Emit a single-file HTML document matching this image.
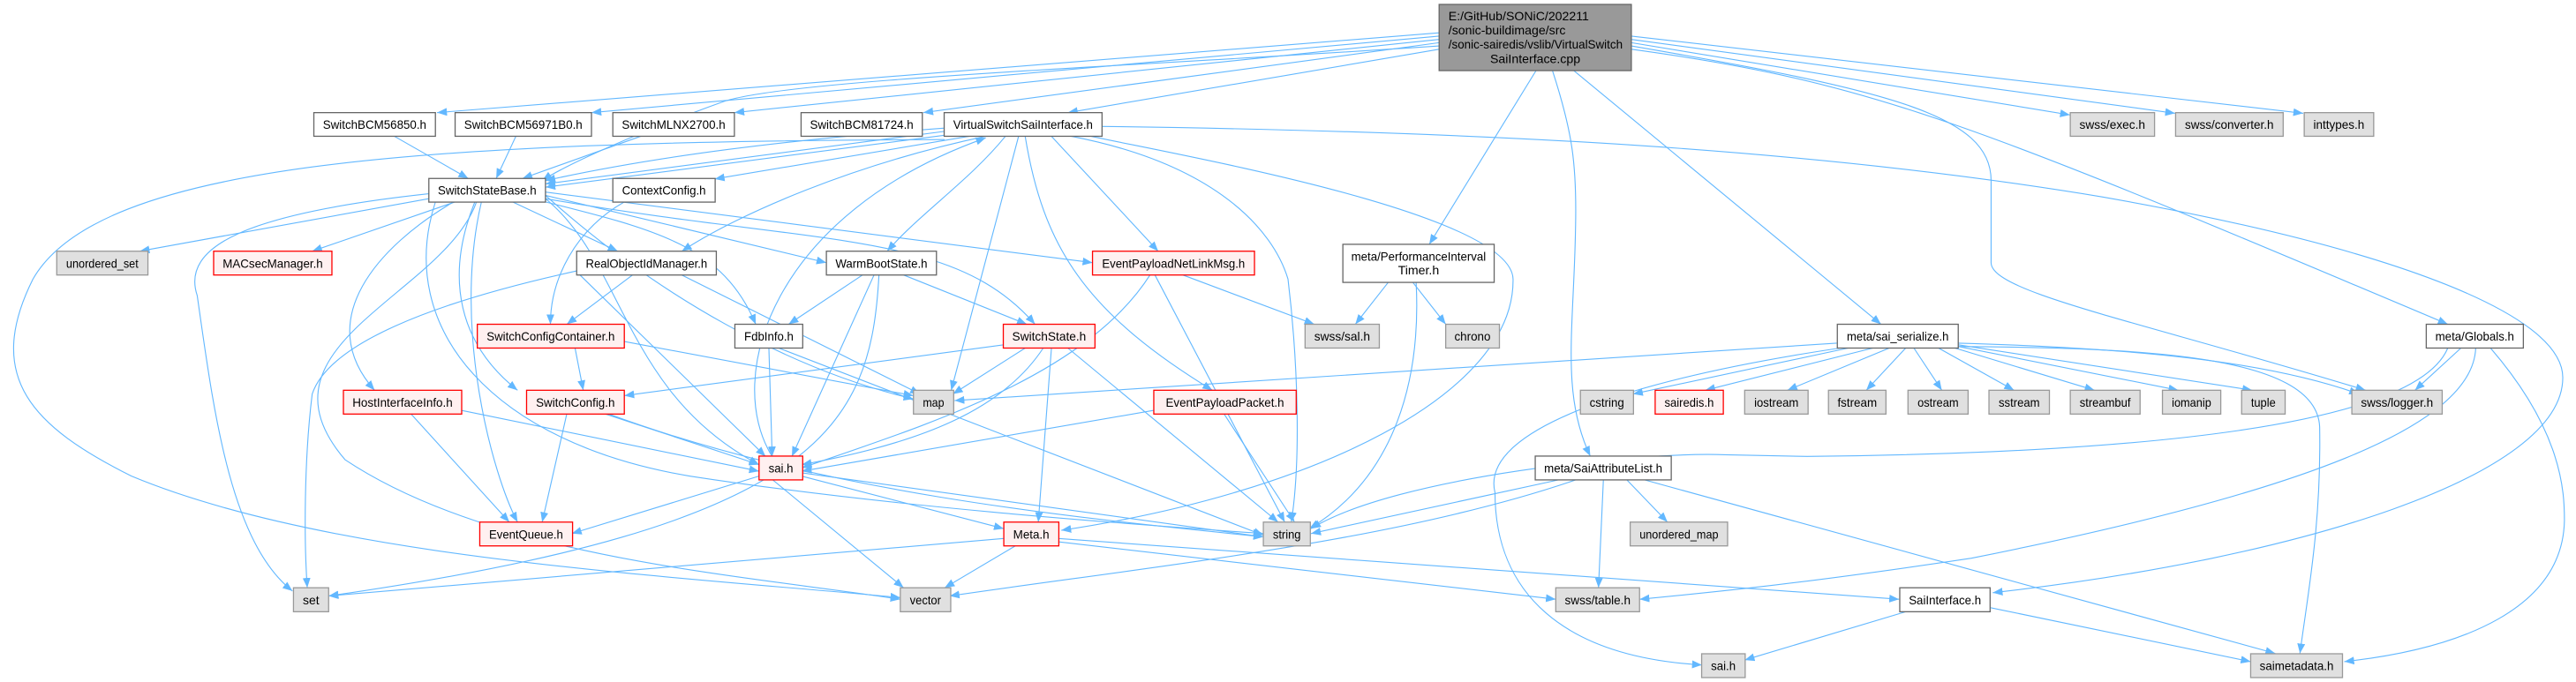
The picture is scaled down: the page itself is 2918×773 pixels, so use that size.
<!DOCTYPE html>
<html><head><meta charset="utf-8"><style>
html,body{margin:0;padding:0;background:#fff;}
svg{display:block;}
text{font-family:"Liberation Sans",Arial,sans-serif;font-size:7.6px;fill:#000;}
.e{fill:none;stroke:#63b8ff;stroke-width:0.6;marker-end:url(#a);}
.w{fill:#fff;stroke:#666;stroke-width:0.7;}
.g{fill:#e0e0e0;stroke:#999;stroke-width:0.7;}
.r{fill:#fff0f0;stroke:#ff0000;stroke-width:0.7;}
.root{fill:#999;stroke:#666;stroke-width:0.7;}
</style></head><body>
<svg width="2918" height="773" viewBox="0 0 1568 415.4" xmlns="http://www.w3.org/2000/svg">
<defs><marker id="a" markerUnits="userSpaceOnUse" markerWidth="7" markerHeight="6" refX="6" refY="2.4" orient="auto"><path d="M0,0 L6,2.4 L0,4.8 z" fill="#63b8ff"/></marker></defs>
<g>
<path class="e" d="M876,20 L266,68.6"/>
<path class="e" d="M876,22 L360,68.6"/>
<path class="e" d="M876,24 L447,68.6"/>
<path class="e" d="M876,26 L562,68.6"/>
<path class="e" d="M876,30 L650,68.6"/>
<path class="e" d="M876,28 C700,40 480,48 440,62 C390,80 345,100 330,110"/>
<path class="e" d="M993,26 L1260,70"/>
<path class="e" d="M993,24 L1324,69"/>
<path class="e" d="M993,22 L1402,69"/>
<path class="e" d="M993,30 C1140,50 1200,75 1490,197.5"/>
<path class="e" d="M993,28 C1150,55 1212,70 1212,110 L1212,160 C1212,178 1300,195 1440,237.7"/>
<path class="e" d="M935,43 L870,148.8"/>
<path class="e" d="M945,43 C957,80 960,100 959,140 C958,200 950,240 968,277.8"/>
<path class="e" d="M958,43 L1145,197.5"/>
<path class="e" d="M575,80 L332,112"/>
<path class="e" d="M578,82 L332,114"/>
<path class="e" d="M575,78 C480,85 400,95 332,110"/>
<path class="e" d="M590,83 L435,109"/>
<path class="e" d="M600,83 C520,100 450,130 415,153"/>
<path class="e" d="M612,83 C590,110 560,130 540,153"/>
<path class="e" d="M620,83 L579,237.7"/>
<path class="e" d="M624,83 C635,150 660,190 738,237.7"/>
<path class="e" d="M640,83 L705,153"/>
<path class="e" d="M652,83 C740,100 775,140 784,170 C790,220 792,280 786,318"/>
<path class="e" d="M664,83 C720,95 920,130 921,170 C922,240 800,300 646,323"/>
<path class="e" d="M671,77 C900,80 1100,90 1280,120 C1450,150 1560,190 1560,230 C1560,290 1400,340 1213,361"/>
<path class="e" d="M575,85 C250,86 60,100 20,170 C-10,230 20,260 80,290 C200,340 400,350 548,364"/>
<path class="e" d="M470,278 C440,230 470,130 600,84"/>
<path class="e" d="M240,83 L285,108.7"/>
<path class="e" d="M314,83 L302,108.7"/>
<path class="e" d="M390,83 L318,108.7"/>
<path class="e" d="M261,121 L85,153"/>
<path class="e" d="M277,123 L190,153"/>
<path class="e" d="M312,123 L376,153"/>
<path class="e" d="M332,119 L503,160"/>
<path class="e" d="M332,117 L665,160"/>
<path class="e" d="M332,121 C500,150 580,140 630,197.5"/>
<path class="e" d="M332,123 C400,140 440,150 460,197.5"/>
<path class="e" d="M276,123 C230,150 190,195 228,237.7"/>
<path class="e" d="M289,123 C270,170 280,210 315,237.7"/>
<path class="e" d="M332,121 C380,160 380,240 462,283"/>
<path class="e" d="M293,123 C275,200 300,290 315,318"/>
<path class="e" d="M261,118 C150,130 110,150 120,180 C130,250 140,330 178,360"/>
<path class="e" d="M332,119 C400,180 480,225 556,243"/>
<path class="e" d="M290,123 C270,180 150,210 210,280 C300,340 450,350 548,365"/>
<path class="e" d="M265,123 C240,200 300,270 420,290 C550,310 700,320 769,325"/>
<path class="e" d="M380,123 C350,140 335,170 335,197.5"/>
<path class="e" d="M385,167.5 L345,197.5"/>
<path class="e" d="M351,165 C260,185 200,210 190,240 C185,280 185,330 187,358"/>
<path class="e" d="M353,167.5 L466,278"/>
<path class="e" d="M415,167.5 L560,240"/>
<path class="e" d="M525,167.5 L480,197.5"/>
<path class="e" d="M550,167.5 L625,197.5"/>
<path class="e" d="M532,167.5 L482,278"/>
<path class="e" d="M535,167.5 C530,260 500,320 200,363"/>
<path class="e" d="M700,167.5 C660,230 560,260 488,285"/>
<path class="e" d="M703,167.5 L782,318"/>
<path class="e" d="M720,167.5 L800,197.5"/>
<path class="e" d="M845,172 L825,197.5"/>
<path class="e" d="M860,172 L880,197.5"/>
<path class="e" d="M862,172 C865,230 850,290 797,322"/>
<path class="e" d="M350,212 L355,237.7"/>
<path class="e" d="M380,208 L556,241"/>
<path class="e" d="M468,212 L470,278"/>
<path class="e" d="M474,212 L769,326"/>
<path class="e" d="M611,210 L380,241"/>
<path class="e" d="M624,212 L580,240"/>
<path class="e" d="M635,212 C610,250 560,270 488,283"/>
<path class="e" d="M640,212 L632,318"/>
<path class="e" d="M650,212 L778,318"/>
<path class="e" d="M250,252 L310,318"/>
<path class="e" d="M281,250 L462,287"/>
<path class="e" d="M345,252 L330,318"/>
<path class="e" d="M368,252 L462,283"/>
<path class="e" d="M370,252 C500,300 650,315 769,327"/>
<path class="e" d="M702,250 L488,287"/>
<path class="e" d="M745,252 L788,318"/>
<path class="e" d="M462,290 L348,325"/>
<path class="e" d="M488,290 L611,322"/>
<path class="e" d="M470,292 L550,358"/>
<path class="e" d="M488,288 L769,327"/>
<path class="e" d="M611,328 L200,363"/>
<path class="e" d="M618,332.5 L575,358"/>
<path class="e" d="M644,330 L947,365"/>
<path class="e" d="M644,328 L1156,365"/>
<path class="e" d="M1118,209 L581,244"/>
<path class="e" d="M1125,212 L994,240"/>
<path class="e" d="M1140,212 L1038,237.7"/>
<path class="e" d="M1150,212 L1088,237.7"/>
<path class="e" d="M1160,212 L1136,237.7"/>
<path class="e" d="M1165,212 L1182,237.7"/>
<path class="e" d="M1180,212 L1226,237.7"/>
<path class="e" d="M1190,212 L1275,237.7"/>
<path class="e" d="M1192,211 L1326,237.7"/>
<path class="e" d="M1192,210 L1371,237.7"/>
<path class="e" d="M1192,209 C1300,212 1380,220 1436,240"/>
<path class="e" d="M1120,212 C1000,230 900,260 910,300 C910,360 950,400 1036,405"/>
<path class="e" d="M1192,211 C1300,212 1410,215 1412,260 C1413,320 1405,360 1400,398"/>
<path class="e" d="M1490,212 C1470,260 1300,276 1100,278 L1050,277 C1000,275 850,290 798,322"/>
<path class="e" d="M950,292 L798,325"/>
<path class="e" d="M960,292 C850,330 700,345 578,363"/>
<path class="e" d="M976,292 L973,358"/>
<path class="e" d="M990,292 L1015,318"/>
<path class="e" d="M1000,292 L1385,398"/>
<path class="e" d="M1498,212 L1470,237.7"/>
<path class="e" d="M1507,212 C1505,260 1400,300 1200,340 C1100,355 1050,360 998,365"/>
<path class="e" d="M1516,212 C1560,263 1561,300 1561,317 C1560,370 1500,395 1427,403"/>
<path class="e" d="M1160,372.6 L1062,402"/>
<path class="e" d="M1211,370 L1370,403"/>
</g>
<g>
<rect class="root" x="876" y="2.7" width="117" height="40.3"/>
<text x="881.7" y="12.5">E:/GitHub/SONiC/202211</text>
<text x="881.7" y="21.1">/sonic-buildimage/src</text>
<text x="881.7" y="29.6" textLength="106" lengthAdjust="spacingAndGlyphs">/sonic-sairedis/vslib/VirtualSwitch</text>
<text x="934.5" y="38.5" text-anchor="middle">SaiInterface.cpp</text>
<rect class="w" x="817.4" y="148.8" width="92.1" height="23.2"/>
<text x="863.5" y="158.9" text-anchor="middle" textLength="82" lengthAdjust="spacingAndGlyphs">meta/PerformanceInterval</text>
<text x="863.5" y="167.1" text-anchor="middle">Timer.h</text>
</g>
<rect class="w" x="191" y="68.6" width="74" height="14.4"/><text x="228" y="78.5" text-anchor="middle" textLength="63" lengthAdjust="spacingAndGlyphs">SwitchBCM56850.h</text>
<rect class="w" x="277" y="68.6" width="83" height="14.4"/><text x="318.5" y="78.5" text-anchor="middle" textLength="72" lengthAdjust="spacingAndGlyphs">SwitchBCM56971B0.h</text>
<rect class="w" x="373" y="68.6" width="74" height="14.4"/><text x="410" y="78.5" text-anchor="middle" textLength="63" lengthAdjust="spacingAndGlyphs">SwitchMLNX2700.h</text>
<rect class="w" x="487.6" y="68.6" width="73.8" height="14.4"/><text x="524.5" y="78.5" text-anchor="middle" textLength="63" lengthAdjust="spacingAndGlyphs">SwitchBCM81724.h</text>
<rect class="w" x="574.7" y="68.6" width="96.1" height="14.4"/><text x="622.7" y="78.5" text-anchor="middle" textLength="85" lengthAdjust="spacingAndGlyphs">VirtualSwitchSaiInterface.h</text>
<rect class="g" x="1260.2" y="68.6" width="51.3" height="14.4"/><text x="1285.8" y="78.5" text-anchor="middle" textLength="40" lengthAdjust="spacingAndGlyphs">swss/exec.h</text>
<rect class="g" x="1324.3" y="68.6" width="65.5" height="14.4"/><text x="1357" y="78.5" text-anchor="middle" textLength="54" lengthAdjust="spacingAndGlyphs">swss/converter.h</text>
<rect class="g" x="1402.6" y="68.6" width="42.3" height="14.4"/><text x="1423.7" y="78.5" text-anchor="middle" textLength="31" lengthAdjust="spacingAndGlyphs">inttypes.h</text>
<rect class="w" x="261" y="108.7" width="71" height="14.4"/><text x="296.5" y="118.6" text-anchor="middle" textLength="60" lengthAdjust="spacingAndGlyphs">SwitchStateBase.h</text>
<rect class="w" x="373" y="108.7" width="62.3" height="14.4"/><text x="404.1" y="118.6" text-anchor="middle" textLength="51" lengthAdjust="spacingAndGlyphs">ContextConfig.h</text>
<rect class="g" x="34.5" y="153" width="55.5" height="14.5"/><text x="62.2" y="163" text-anchor="middle" textLength="44" lengthAdjust="spacingAndGlyphs">unordered_set</text>
<rect class="r" x="130" y="153" width="72" height="14.5"/><text x="166" y="163" text-anchor="middle" textLength="61" lengthAdjust="spacingAndGlyphs">MACsecManager.h</text>
<rect class="w" x="351" y="153" width="85" height="14.5"/><text x="393.5" y="163" text-anchor="middle" textLength="74" lengthAdjust="spacingAndGlyphs">RealObjectIdManager.h</text>
<rect class="w" x="503" y="153" width="67" height="14.5"/><text x="536.5" y="163" text-anchor="middle" textLength="56" lengthAdjust="spacingAndGlyphs">WarmBootState.h</text>
<rect class="r" x="665" y="153" width="98.6" height="14.5"/><text x="714.3" y="163" text-anchor="middle" textLength="87" lengthAdjust="spacingAndGlyphs">EventPayloadNetLinkMsg.h</text>
<rect class="r" x="290.5" y="197.5" width="89.5" height="14.5"/><text x="335.2" y="207.5" text-anchor="middle" textLength="78" lengthAdjust="spacingAndGlyphs">SwitchConfigContainer.h</text>
<rect class="w" x="447.3" y="197.5" width="41.3" height="14.5"/><text x="468" y="207.5" text-anchor="middle" textLength="30" lengthAdjust="spacingAndGlyphs">FdbInfo.h</text>
<rect class="r" x="610.7" y="197.5" width="55.8" height="14.5"/><text x="638.6" y="207.5" text-anchor="middle" textLength="45" lengthAdjust="spacingAndGlyphs">SwitchState.h</text>
<rect class="g" x="794.4" y="197.5" width="45.2" height="14.5"/><text x="817" y="207.5" text-anchor="middle" textLength="34" lengthAdjust="spacingAndGlyphs">swss/sal.h</text>
<rect class="g" x="880" y="197.5" width="32.7" height="14.5"/><text x="896.3" y="207.5" text-anchor="middle" textLength="22" lengthAdjust="spacingAndGlyphs">chrono</text>
<rect class="w" x="1118.4" y="197.5" width="73.6" height="14.5"/><text x="1155.2" y="207.5" text-anchor="middle" textLength="62" lengthAdjust="spacingAndGlyphs">meta/sai_serialize.h</text>
<rect class="w" x="1476.9" y="197.5" width="59.1" height="14.5"/><text x="1506.4" y="207.5" text-anchor="middle" textLength="48" lengthAdjust="spacingAndGlyphs">meta/Globals.h</text>
<rect class="r" x="209" y="237.7" width="72" height="14.5"/><text x="245" y="247.7" text-anchor="middle" textLength="61" lengthAdjust="spacingAndGlyphs">HostInterfaceInfo.h</text>
<rect class="r" x="320.5" y="237.7" width="59.5" height="14.5"/><text x="350.2" y="247.7" text-anchor="middle" textLength="48" lengthAdjust="spacingAndGlyphs">SwitchConfig.h</text>
<rect class="g" x="556" y="237.7" width="24.5" height="14.5"/><text x="568.2" y="247.7" text-anchor="middle" textLength="13" lengthAdjust="spacingAndGlyphs">map</text>
<rect class="r" x="702.3" y="237.7" width="86.7" height="14.5"/><text x="745.6" y="247.7" text-anchor="middle" textLength="72" lengthAdjust="spacingAndGlyphs">EventPayloadPacket.h</text>
<rect class="g" x="962" y="237.7" width="32.3" height="14.5"/><text x="978.1" y="247.7" text-anchor="middle" textLength="21" lengthAdjust="spacingAndGlyphs">cstring</text>
<rect class="r" x="1007.5" y="237.7" width="41.5" height="14.5"/><text x="1028.2" y="247.7" text-anchor="middle" textLength="30" lengthAdjust="spacingAndGlyphs">sairedis.h</text>
<rect class="g" x="1062" y="237.7" width="38.6" height="14.5"/><text x="1081.3" y="247.7" text-anchor="middle" textLength="27" lengthAdjust="spacingAndGlyphs">iostream</text>
<rect class="g" x="1113" y="237.7" width="35" height="14.5"/><text x="1130.5" y="247.7" text-anchor="middle" textLength="24" lengthAdjust="spacingAndGlyphs">fstream</text>
<rect class="g" x="1161.4" y="237.7" width="36.6" height="14.5"/><text x="1179.7" y="247.7" text-anchor="middle" textLength="25" lengthAdjust="spacingAndGlyphs">ostream</text>
<rect class="g" x="1210.7" y="237.7" width="36.8" height="14.5"/><text x="1229.1" y="247.7" text-anchor="middle" textLength="25" lengthAdjust="spacingAndGlyphs">sstream</text>
<rect class="g" x="1260.2" y="237.7" width="42.5" height="14.5"/><text x="1281.4" y="247.7" text-anchor="middle" textLength="31" lengthAdjust="spacingAndGlyphs">streambuf</text>
<rect class="g" x="1316.3" y="237.7" width="35.5" height="14.5"/><text x="1334" y="247.7" text-anchor="middle" textLength="24" lengthAdjust="spacingAndGlyphs">iomanip</text>
<rect class="g" x="1364.5" y="237.7" width="26.5" height="14.5"/><text x="1377.7" y="247.7" text-anchor="middle" textLength="15" lengthAdjust="spacingAndGlyphs">tuple</text>
<rect class="g" x="1431.6" y="237.7" width="55" height="14.5"/><text x="1459.1" y="247.7" text-anchor="middle" textLength="44" lengthAdjust="spacingAndGlyphs">swss/logger.h</text>
<rect class="r" x="462" y="277.8" width="26.6" height="14.5"/><text x="475.3" y="287.8" text-anchor="middle" textLength="15" lengthAdjust="spacingAndGlyphs">sai.h</text>
<rect class="w" x="934.5" y="277.8" width="82.8" height="14.5"/><text x="975.9" y="287.8" text-anchor="middle" textLength="72" lengthAdjust="spacingAndGlyphs">meta/SaiAttributeList.h</text>
<rect class="r" x="292" y="318" width="56.5" height="14.5"/><text x="320.2" y="328" text-anchor="middle" textLength="45" lengthAdjust="spacingAndGlyphs">EventQueue.h</text>
<rect class="r" x="611" y="318" width="33.5" height="14.5"/><text x="627.7" y="328" text-anchor="middle" textLength="22" lengthAdjust="spacingAndGlyphs">Meta.h</text>
<rect class="g" x="769" y="318" width="28.6" height="14.5"/><text x="783.3" y="328" text-anchor="middle" textLength="17" lengthAdjust="spacingAndGlyphs">string</text>
<rect class="g" x="992.3" y="318" width="59.3" height="14.5"/><text x="1022" y="328" text-anchor="middle" textLength="48" lengthAdjust="spacingAndGlyphs">unordered_map</text>
<rect class="g" x="178.6" y="358" width="21.4" height="14.6"/><text x="189.3" y="368" text-anchor="middle" textLength="10" lengthAdjust="spacingAndGlyphs">set</text>
<rect class="g" x="548" y="358" width="30.7" height="14.6"/><text x="563.3" y="368" text-anchor="middle" textLength="19" lengthAdjust="spacingAndGlyphs">vector</text>
<rect class="g" x="947" y="358" width="51" height="14.6"/><text x="972.5" y="368" text-anchor="middle" textLength="40" lengthAdjust="spacingAndGlyphs">swss/table.h</text>
<rect class="w" x="1156.4" y="358" width="55" height="14.6"/><text x="1183.9" y="368" text-anchor="middle" textLength="44" lengthAdjust="spacingAndGlyphs">SaiInterface.h</text>
<rect class="g" x="1035.8" y="398.2" width="26.5" height="14.5"/><text x="1049" y="408.2" text-anchor="middle" textLength="15" lengthAdjust="spacingAndGlyphs">sai.h</text>
<rect class="g" x="1370" y="398.2" width="55.9" height="14.5"/><text x="1398" y="408.2" text-anchor="middle" textLength="45" lengthAdjust="spacingAndGlyphs">saimetadata.h</text>
</svg>
</body></html>
